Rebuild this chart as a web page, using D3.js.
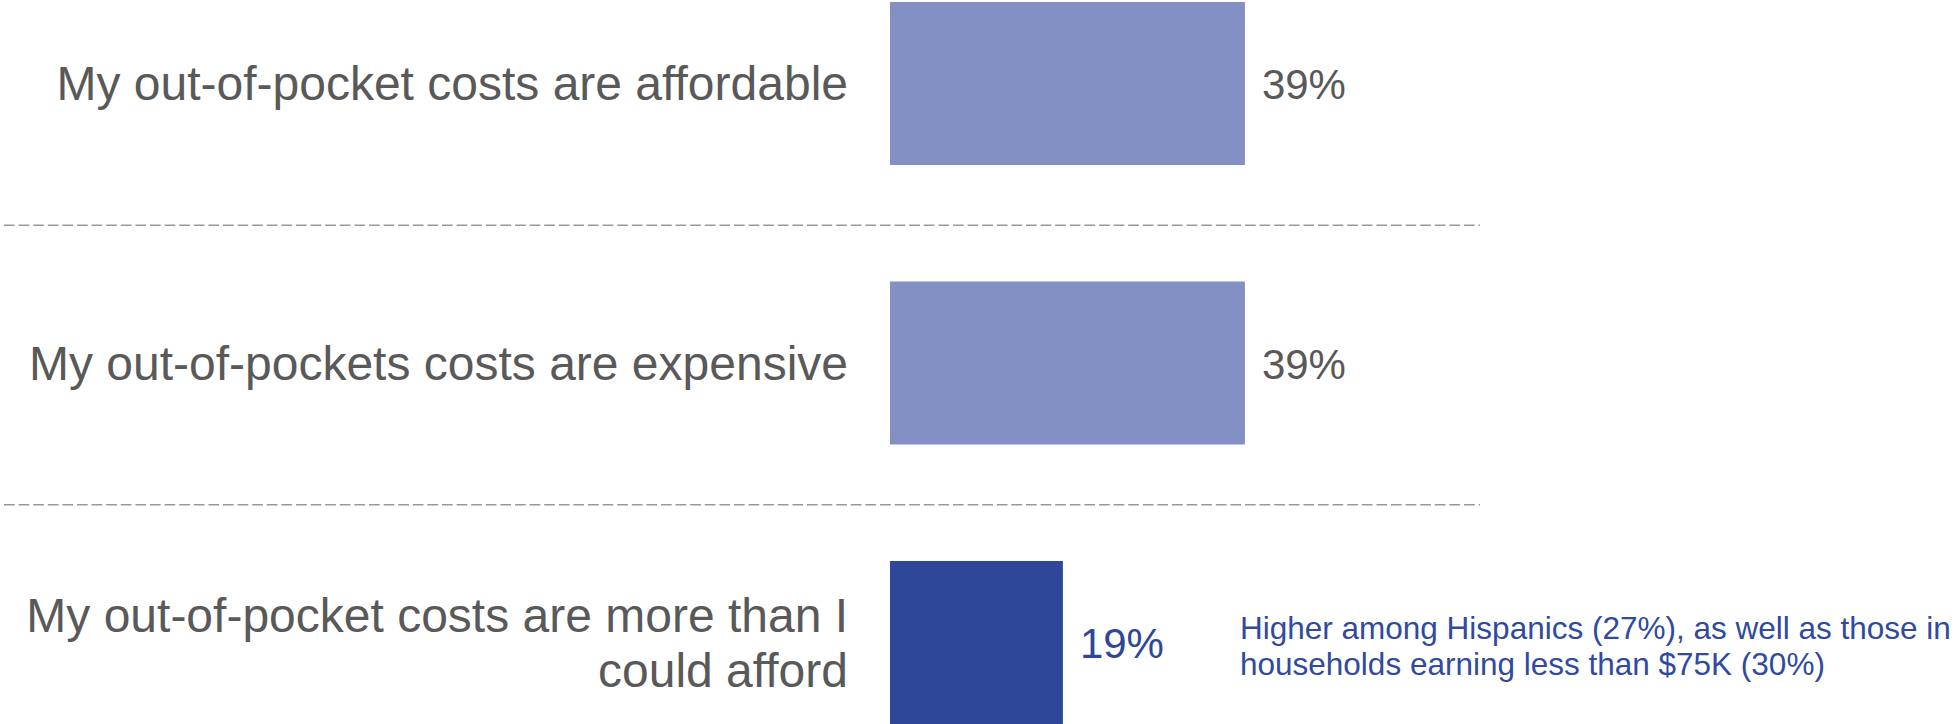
<!DOCTYPE html>
<html>
<head>
<meta charset="utf-8">
<script src="https://cdn.jsdelivr.net/npm/d3@7"></script>
<style>
  html, body { margin: 0; padding: 0; background: #ffffff; }
  svg { display: block; }
</style>
</head>
<body>
<svg id="chart" width="1960" height="724"></svg>
<script>
// Survey statements (each label may span several lines)
const categories = [
  ["My out-of-pocket costs are affordable"],
  ["My out-of-pockets costs are expensive"],
  ["My out-of-pocket costs are more than I", "could afford"]
];
// Share of respondents, in percent
const values = [39, 39, 19];
// Which bar is emphasised
const highlighted = [false, false, true];
// Note beside the emphasised bar
const noteLines = [
  "Higher among Hispanics (27%), as well as those in",
  "households earning less than $75K (30%)"
];

const W = 1960, H = 724;
const font = "'Liberation Sans', Arial, sans-serif";
const colLight = "#8290c3", colDark = "#2e4798";
const colText = "#595959", colNote = "#2f4aa0";

const svg = d3.select("#chart");
const keys = categories.map((c, i) => i);

const y = d3.scaleBand().domain(keys).range([2, 724]).paddingInner(0.4168).paddingOuter(0);
const x = d3.scaleLinear().domain([0, 100]).range([890, 1800]);

// dashed separators between rows
const seps = keys.slice(1).map(k => (y(k - 1) + y.bandwidth() + y(k)) / 2 + 2);
svg.append("g").selectAll("line").data(seps).join("line")
  .attr("x1", 4).attr("x2", 1480)
  .attr("y1", d => d).attr("y2", d => d)
  .attr("stroke", "#999999").attr("stroke-width", 1.6)
  .attr("stroke-dasharray", "10.7,3.9");

// bars
svg.append("g").selectAll("rect").data(keys).join("rect")
  .attr("x", x(0))
  .attr("y", k => y(k))
  .attr("width", k => x(values[k]) - x(0))
  .attr("height", y.bandwidth())
  .attr("fill", k => highlighted[k] ? colDark : colLight);

// category labels, right aligned and vertically centred on each bar
const lineH = 55, catSize = 48;
svg.append("g").selectAll("text").data(keys).join("text")
  .attr("text-anchor", "end")
  .attr("font-family", font)
  .attr("font-size", catSize)
  .attr("fill", colText)
  .each(function (k) {
    const lines = categories[k];
    const c = y(k) + y.bandwidth() / 2;
    const first = c - (lines.length - 1) * lineH / 2 + catSize * 0.35;
    d3.select(this).selectAll("tspan").data(lines).join("tspan")
      .attr("x", 848)
      .attr("y", (d, i) => first + i * lineH)
      .text(d => d);
  });

// value labels
const valSize = 42;
svg.append("g").selectAll("text").data(keys).join("text")
  .attr("x", k => x(values[k]) + 17)
  .attr("y", k => y(k) + y.bandwidth() / 2 + valSize * 0.37)
  .attr("font-family", font)
  .attr("font-size", valSize)
  .attr("fill", k => highlighted[k] ? colDark : colText)
  .text(k => values[k] + "%");

// note next to the emphasised bar
const hk = highlighted.indexOf(true);
const noteSize = 31.5, noteLH = 36;
const noteC = y(hk) + y.bandwidth() / 2;
svg.append("text")
  .attr("font-family", font)
  .attr("font-size", noteSize)
  .attr("fill", colNote)
  .selectAll("tspan").data(noteLines).join("tspan")
  .attr("x", 1240)
  .attr("y", (d, i) => noteC - (noteLines.length - 1) * noteLH / 2 + noteSize * 0.46 + i * noteLH)
  .text(d => d);
</script>
</body>
</html>
